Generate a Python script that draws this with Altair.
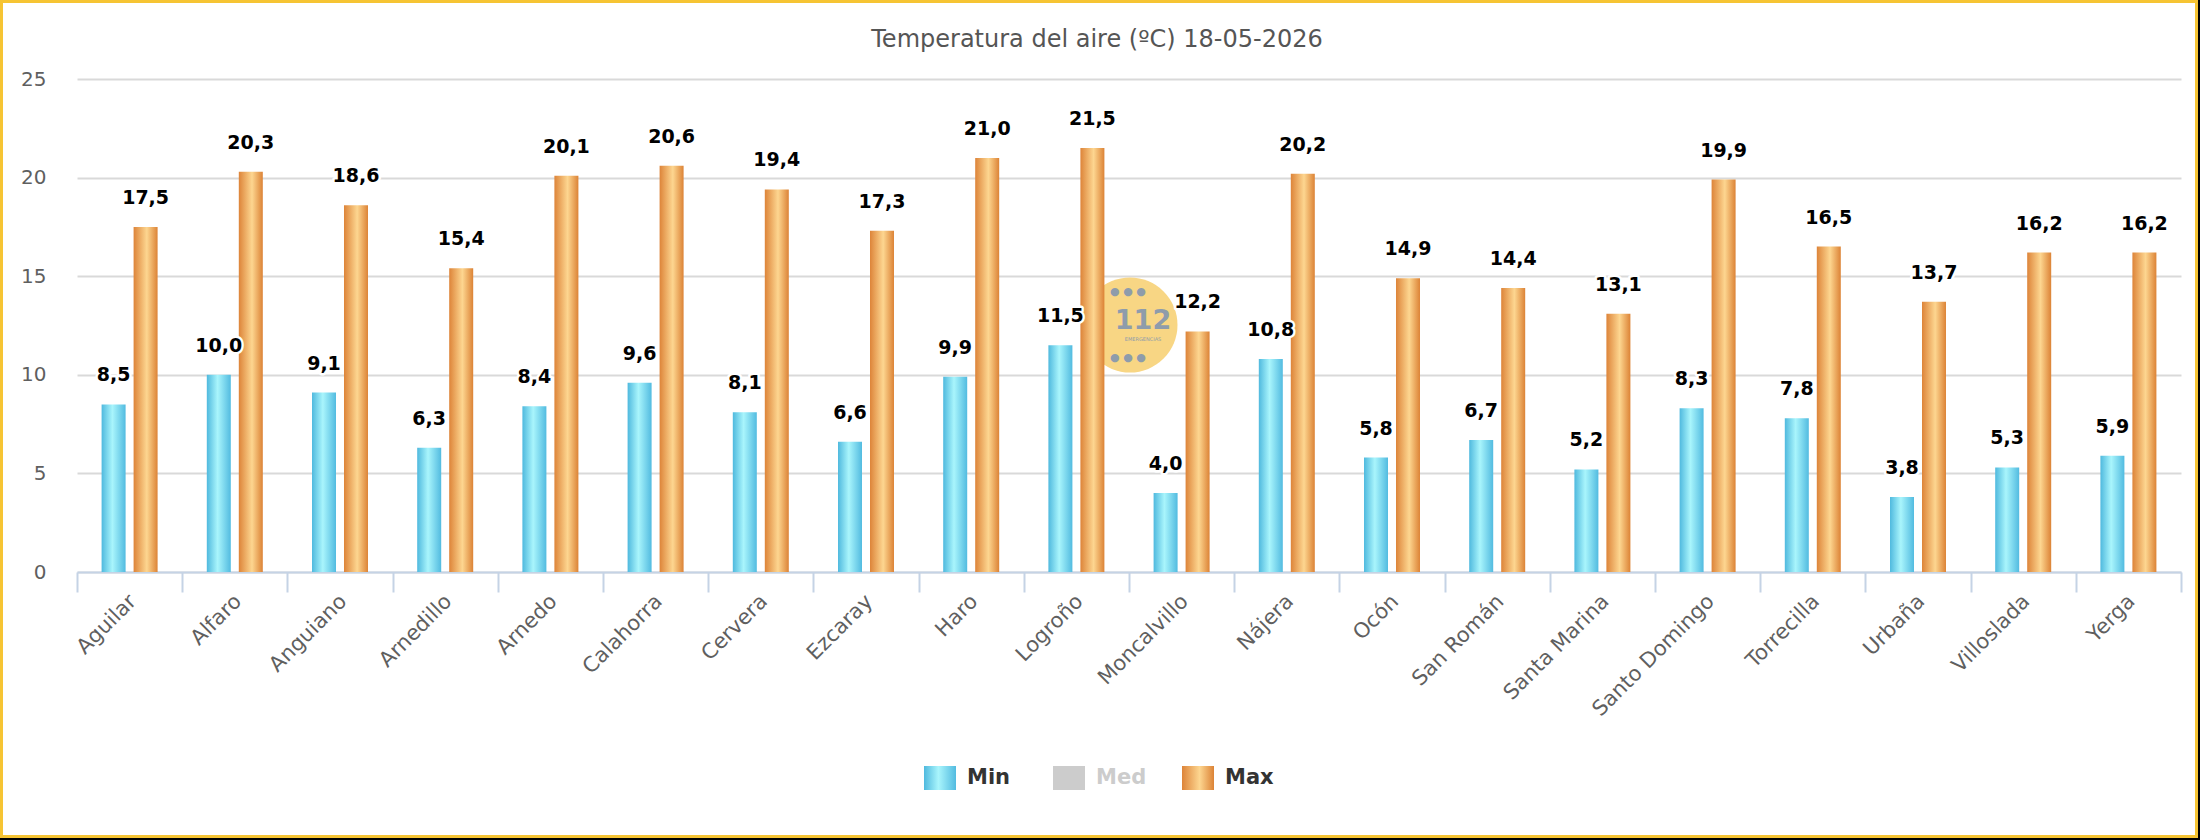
import altair as alt
import pandas as pd

# --- data -------------------------------------------------------------------
stations = [
    "Aguilar", "Alfaro", "Anguiano", "Arnedillo", "Arnedo", "Calahorra",
    "Cervera", "Ezcaray", "Haro", "Logroño", "Moncalvillo", "Nájera",
    "Ocón", "San Román", "Santa Marina", "Santo Domingo", "Torrecilla",
    "Urbaña", "Villoslada", "Yerga",
]
t_min = [8.5, 10.0, 9.1, 6.3, 8.4, 9.6, 8.1, 6.6, 9.9, 11.5,
         4.0, 10.8, 5.8, 6.7, 5.2, 8.3, 7.8, 3.8, 5.3, 5.9]
t_max = [17.5, 20.3, 18.6, 15.4, 20.1, 20.6, 19.4, 17.3, 21.0, 21.5,
         12.2, 20.2, 14.9, 14.4, 13.1, 19.9, 16.5, 13.7, 16.2, 16.2]
series_bars = ["Min", "Max"]
legend_items = ["Min", "Med", "Max"]
y_ticks = [0, 5, 10, 15, 20, 25]
title_text = "Temperatura del aire (ºC) 18-05-2026"

rows = []
for name, lo, hi in zip(stations, t_min, t_max):
    for s, v in (("Min", lo), ("Max", hi)):
        rows.append({"station": name, "series": s, "value": v,
                     "label": f"{v:.1f}".replace(".", ",")})
df = pd.DataFrame(rows)

# --- styling ----------------------------------------------------------------
FONT = "DejaVu Sans"
W, H = 2104, 493


def cylinder(edge_l, mid, edge_r, mid_at):
    return alt.LinearGradient(
        gradient="linear", x1=0, x2=1, y1=0, y2=0,
        stops=[alt.GradientStop(color=edge_l, offset=0),
               alt.GradientStop(color=mid, offset=mid_at),
               alt.GradientStop(color=edge_r, offset=1)],
    )


grad_min = cylinder("#4fb9de", "#a9f5fc", "#52bbe0", 0.45)
grad_max = cylinder("#dd8439", "#fdd690", "#dc8336", 0.55)
GRID = "#d9d9d9"
AXIS_LINE = "#c5d3e5"
LABEL_GRAY = "#5f5f5f"

x_enc = alt.X(
    "station:N", sort=stations,
    scale=alt.Scale(domain=stations, paddingInner=0, paddingOuter=0),
    axis=alt.Axis(
        title=None, grid=False, domain=True, domainColor=AXIS_LINE,
        domainWidth=2, ticks=True, tickSize=20, tickWidth=2,
        tickColor=AXIS_LINE, tickBand="extent", labelAngle=-45,
        labelAlign="right", labelBaseline="middle", labelPadding=6,
        labelOffset=3, labelFont=FONT, labelFontSize=21,
        labelColor=LABEL_GRAY,
    ),
)
xoff_enc = alt.XOffset(
    "series:N", sort=series_bars,
    scale=alt.Scale(domain=series_bars, paddingInner=0.25, paddingOuter=0.769),
)
y_enc = alt.Y(
    "value:Q",
    scale=alt.Scale(domain=[0, 25], nice=False, zero=True),
    axis=alt.Axis(
        title=None, values=y_ticks, domain=False, ticks=False, grid=True,
        gridColor=GRID, gridWidth=2, labelPadding=31, labelFont=FONT,
        labelFontSize=20, labelColor=LABEL_GRAY, labelBaseline="middle",
    ),
)

base = alt.Chart(df).encode(x=x_enc, xOffset=xoff_enc, y=y_enc)

bars_min = base.transform_filter(alt.datum.series == "Min").mark_bar(
    fill=grad_min, strokeWidth=0)
bars_max = base.transform_filter(alt.datum.series == "Max").mark_bar(
    fill=grad_max, strokeWidth=0)

label_style = dict(baseline="alphabetic", dy=-23, font=FONT, fontSize=19,
                   fontWeight="bold")
halo = base.mark_text(color="white", stroke="white", strokeWidth=5,
                      strokeJoin="round", **label_style).encode(text="label:N")
labels = base.mark_text(color="#000000", **label_style).encode(text="label:N")

# 112 emblem behind the bars
one = alt.Chart(pd.DataFrame({"k": [0]}))
emblem = one.mark_point(shape="circle", filled=True, size=9025,
                        color="#f8d684", opacity=1).encode(
    x=alt.value(1053), y=alt.value(246))
emblem_num = one.mark_text(text="112", font=FONT, fontSize=27,
                           fontWeight="bold", color="#8e9cab").encode(
    x=alt.value(1066), y=alt.value(242))
emblem_sub = one.mark_text(text="EMERGENCIAS", font=FONT, fontSize=5,
                           color="#8e9cab").encode(
    x=alt.value(1066), y=alt.value(260))
emblem_dots_top = one.mark_text(text="●  ●  ●", font=FONT,
                                fontSize=11, color="#8e9cab").encode(
    x=alt.value(1051), y=alt.value(213))
emblem_dots_bot = one.mark_text(text="●  ●  ●", font=FONT,
                                fontSize=11, color="#8e9cab").encode(
    x=alt.value(1051), y=alt.value(279))

main = alt.layer(
    emblem, emblem_num, emblem_sub, emblem_dots_top, emblem_dots_bot,
    bars_min, bars_max, halo, labels,
).properties(
    width=W, height=H,
    title=alt.TitleParams(text=title_text, font=FONT, fontSize=24,
                          fontWeight="normal", color="#555555",
                          anchor="middle", dx=-32, offset=17),
)

# --- legend row -------------------------------------------------------------
leg_df = pd.DataFrame({"series": legend_items})
leg_x = alt.X("series:N", sort=legend_items,
              scale=alt.Scale(domain=legend_items, paddingInner=0,
                              paddingOuter=0, range=[847, 1234]),
              axis=None)
leg_base = alt.Chart(leg_df).encode(x=leg_x)
swatch_shape = "M-1,-0.75H1V0.75H-1Z"
sw_style = dict(shape=swatch_shape, size=1024, filled=True, opacity=1,
                strokeWidth=0, xOffset=-48.5)
sw_min = leg_base.transform_filter(alt.datum.series == "Min").mark_point(
    fill=grad_min, **sw_style)
sw_med = leg_base.transform_filter(alt.datum.series == "Med").mark_point(
    fill="#cccccc", **sw_style)
sw_max = leg_base.transform_filter(alt.datum.series == "Max").mark_point(
    fill=grad_max, **sw_style)
leg_text = leg_base.mark_text(align="left", baseline="middle", dx=-21.5,
                              font=FONT, fontSize=21,
                              fontWeight="bold").encode(
    text="series:N",
    color=alt.condition(alt.datum.series == "Med", alt.value("#cccccc"),
                        alt.value("#333333")),
)

# outer frame of the card
frame = one.mark_rect(fill="transparent", stroke="#f6c433",
                      strokeWidth=3).encode(
    x=alt.value(-75.5), x2=alt.value(2119.5),
    y=alt.value(-764.5), y2=alt.value(70.5))
edge_r = one.mark_rect(color="#000000").encode(
    x=alt.value(2121), x2=alt.value(2123),
    y=alt.value(-766), y2=alt.value(74))
edge_b = one.mark_rect(color="#000000").encode(
    x=alt.value(-77), x2=alt.value(2123),
    y=alt.value(72), y2=alt.value(74))

legend = alt.layer(sw_min, sw_med, sw_max, leg_text, frame, edge_r,
                   edge_b).properties(width=W, height=24)

chart = alt.vconcat(main, legend, spacing=194, bounds="flush").properties(
    padding=0, background="white",
).configure_view(strokeWidth=0)

chart.save("out.html", embed_options={"renderer": "svg", "actions": False})
